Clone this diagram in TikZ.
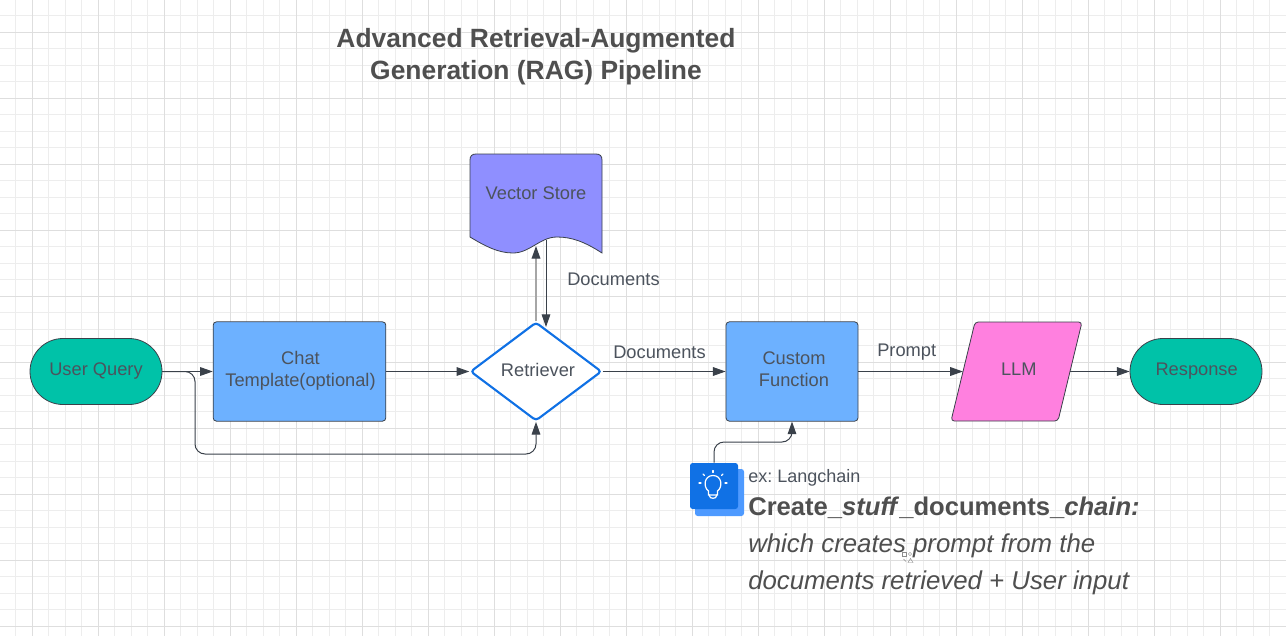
\documentclass[tikz,border=0pt]{standalone}
\usepackage{fontspec}
\setmainfont{Liberation Sans}
\usetikzlibrary{arrows.meta,shapes.geometric,shapes.misc}
\definecolor{txt}{HTML}{4C535D}
\definecolor{note}{HTML}{4F4F4F}
\definecolor{lin}{HTML}{3A414A}
\definecolor{teal}{HTML}{00C2A8}
\definecolor{boxblue}{HTML}{6DB1FF}
\definecolor{vec}{HTML}{8F8FFF}
\definecolor{pinkf}{HTML}{FF80DF}
\definecolor{deep}{HTML}{1071E5}
\definecolor{backb}{HTML}{4E9AFF}
\newcommand{\nudge}[1]{\hspace*{#1}}
\tikzset{
 x=0.75pt,y=-0.75pt,
 outl/.style={draw=lin,line width=0.6pt},
 conn/.style={draw=lin,line width=0.75pt,rounded corners=7.5pt,-{Triangle[length=9.5pt,width=6.5pt,color=lin]}},
 lab/.style={text=txt,font=\fontsize{13.7pt}{16.5pt}\selectfont,inner sep=0pt,align=center},
 pill/.style={lab,rounded rectangle,outl,fill=teal,minimum width=99pt,minimum height=49.5pt},
 boxn/.style={lab,rectangle,rounded corners=2.5pt,outl,fill=boxblue,minimum width=129.5pt,minimum height=74.5pt},
 noteline/.style={anchor=base west,inner sep=0pt,text=note,font=\fontsize{19.35pt}{23pt}\selectfont},
}
\begin{document}
\frenchspacing
\begin{tikzpicture}
\useasboundingbox (0,0) rectangle (1286,636);
\fill[white] (0,0) rectangle (1286,636);
% grid
\foreach \i in {-1,...,78}{
  \pgfmathsetmacro{\p}{32-33+\i*16.5}
  \draw[draw=black!7,line width=0.7pt] (\p,0) -- (\p,636);
  \draw[draw=black!7,line width=0.7pt] (0,\p) -- (1286,\p);
}
\foreach \i in {0,...,19}{
  \pgfmathsetmacro{\p}{32+\i*66}
  \draw[draw=black!13,line width=0.7pt] (\p,0) -- (\p,636);
  \draw[draw=black!13,line width=0.7pt] (0,\p) -- (1286,\p);
}
% title
\node[name=title,inner sep=0pt,align=center,text=note,font=\bfseries\fontsize{19.8pt}{24pt}\selectfont] at (536,56.5)
  {Advanced Retrieval-Augmented\\Generation (RAG) Pipeline};
% vector store shape
\draw[outl,fill=vec] (470,237) -- (470,160) .. controls (470,156) and (472,154) .. (476,154)
  -- (596,154) .. controls (600,154) and (602,156) .. (602,160) -- (602,253)
  .. controls (585,242) and (572,237) .. (557,237)
  .. controls (540,237) and (530,253) .. (513,253)
  .. controls (498,253) and (485,246) .. (470,237) -- cycle;
\node[lab,name=vs] at (536,193) {Vector Store};
% LLM shape
\draw[outl,fill=pinkf,rounded corners=2.5pt] (975,322) -- (1082,322) -- (1058,421) -- (951,421) -- cycle;
\node[lab,name=llm,minimum width=80pt,minimum height=74.5pt,text depth=3pt] at (1016.5,371.5) {\nudge{3.5pt}LLM};
% nodes
\node[pill,name=uq] at (96,371.5) {User Query};
\node[boxn,name=chat,text depth=4.4pt] at (299.5,371.5) {\nudge{1.5pt}Chat\\\nudge{1.5pt}Template(optional)};
\node[lab,diamond,name=ret,aspect=1.333,draw=deep,fill=white,line width=1.6pt,rounded corners=2.5pt,minimum width=98.5pt,minimum height=74pt,text depth=3pt] at (536,371.5) {\nudge{3pt}Retriever};
\node[boxn,name=cf,minimum width=99pt,text depth=3pt] at (792,371.5) {\nudge{3pt}Custom\\\nudge{3pt}Function};
\node[pill,name=resp] at (1196,371.5) {\nudge{1pt}Response};
% coordinates
\coordinate (loopc) at (195,454);
\coordinate (vsup) at (536,246);
\coordinate (vsdown) at (546,240);
\coordinate (retin) at (546,327);
\coordinate (bend) at (752,442);
% tip icon
\fill[backb,rounded corners=2pt] (695,469) rectangle (744,516);
\node[name=tip,rectangle,rounded corners=2pt,fill=deep,minimum width=36pt,minimum height=34.5pt,inner sep=0pt] at (714,486) {};
\begin{scope}[draw=white,line width=0.9pt,line cap=round]
 \draw (708.5,491) .. controls (703,487) and (704,475.5) .. (713,475.5) .. controls (722,475.5) and (723,487) .. (717.5,491) -- (717.5,495) -- (708.5,495) -- cycle;
 \draw (709.5,495) -- (709.5,496) .. controls (709.5,499) and (716.5,499) .. (716.5,496) -- (716.5,495);
 \draw (713,470.5) -- (713,472.5);
 \draw (703,474) -- (704.5,475.5);
 \draw (723,474) -- (721.5,475.5);
 \draw (699,483) -- (701,483);
 \draw (725,483) -- (727,483);
\end{scope}
% connectors
\draw[conn] (uq.east) -- (chat.west);
\draw[conn] (chat.east) -- (ret.west);
\draw[conn] (uq.east) -| (loopc) -| (ret.south);
\draw[conn,draw=black!35,line width=1pt] (ret.north) -- (vsup);
\draw[conn] (vsdown) -- (retin);
\draw[conn] (ret.east) -- (cf.west);
\draw[conn] (cf.east) -- (llm.west);
\draw[conn] (llm.east) -- (resp.west);
\draw[conn] (tip.north) |- (bend) -| (cf.south);
% labels
\node[lab,name=l1,anchor=west] at (567,279) {Documents};
\node[lab,name=l2,anchor=west] at (613,352.5) {Documents};
\node[lab,name=l3,anchor=west] at (877,352.5) {Prompt};
% note
\node[lab,name=ex,anchor=base west,font=\fontsize{13.5pt}{16pt}\selectfont] at (748,482) {ex: Langchain};
\node[noteline,name=n1,font=\fontsize{19.2pt}{23pt}\selectfont] at (748,515) {\textbf{Create\_\textit{stuff}\_documents\_\textit{chain:}}};
\node[noteline,name=n2] at (748,552) {\textit{which creates prompt from the}};
\node[noteline,name=n3] at (748,589) {\textit{documents retrieved + User input}};
% small cursor glyph
\begin{scope}[draw=black!45,line width=0.35pt]
 \draw (902.5,552.5) rectangle (906.5,556.5);
 \draw (910,554) circle (1.6);
 \draw (908,562.5) -- (910.5,558.5) -- (913,562.5) -- cycle;
 \draw (903.5,559) -- (906,561.5);
\end{scope}
\end{tikzpicture}
\end{document}
